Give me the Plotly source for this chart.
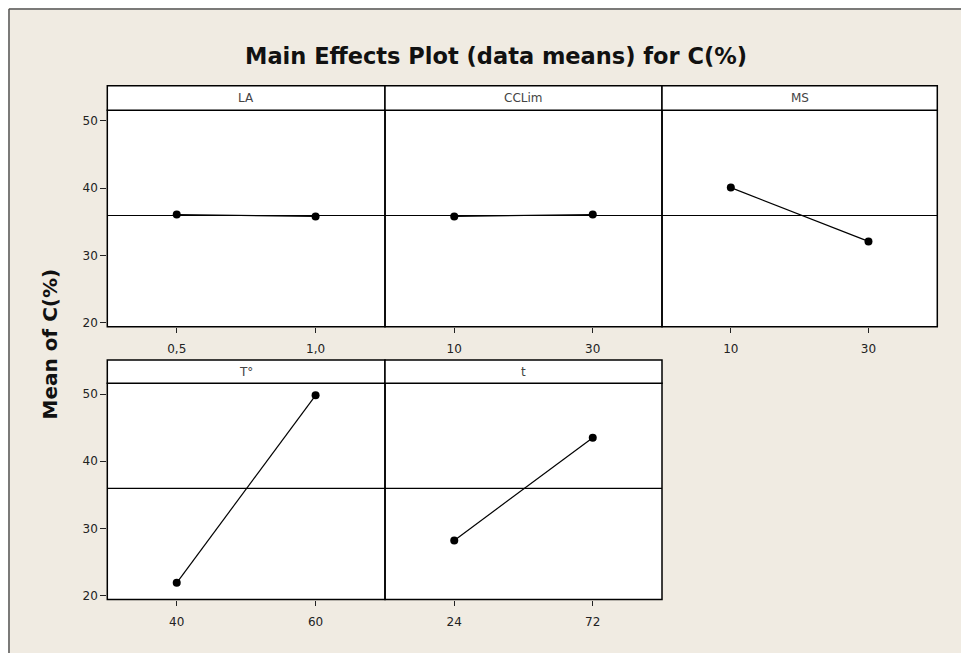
import plotly.graph_objects as go

# ---- data ----
factors = ["LA", "CCLim", "MS", "T°", "t"]
levels = [["0,5", "1,0"], ["10", "30"], ["10", "30"], ["40", "60"], ["24", "72"]]
means = [[36.1, 35.8], [35.8, 36.1], [40.1, 32.1], [21.9, 49.8], [28.2, 43.5]]
grand_mean = 35.95
y_ticks = [20, 30, 40, 50]
title_text = "Main Effects Plot (data means) for C(%)"
y_title = "Mean of C(%)"

# page is offset by the 8px body margin
OFF = 8
W, H = 969 - OFF, 653 - OFF + 6
BG = "#F0EBE2"

# panel geometry in page pixels (left, right) and (strip_top, plot_top, plot_bottom)
cols = [(107.3, 385.0), (385.0, 662.0), (662.0, 937.3)]
rows = [(86.0, 110.7, 328.3), (361.7, 385.0, 602.3)]
panel_pos = [(0, 0), (0, 1), (0, 2), (1, 0), (1, 1)]


def fx(px):
    return (px - OFF) / W


def fy(py):
    return 1 - (py - OFF) / H


fig = go.Figure()
shapes = []
annotations = []
layout_axes = {}

for i, (name, lv, mv) in enumerate(zip(factors, levels, means)):
    r, c = panel_pos[i]
    x0, x1 = cols[c]
    st, pt, pb = rows[r]
    n = "" if i == 0 else str(i + 1)
    xa, ya = "x" + n, "y" + n
    fig.add_trace(go.Scatter(
        x=lv, y=mv, xaxis=xa, yaxis=ya, mode="lines+markers",
        line=dict(color="black", width=1.2),
        marker=dict(color="black", size=8),
        showlegend=False, hoverinfo="x+y",
    ))
    layout_axes["xaxis" + n] = dict(
        domain=[fx(x0), fx(x1)], anchor=ya, type="category",
        categoryorder="array", categoryarray=lv, range=[-0.5, 1.5],
        showline=False, ticks="outside", ticklen=5, tickwidth=1, tickcolor="#222",
        ticklabelstandoff=6,
        showgrid=False, zeroline=False,
        tickfont=dict(family="DejaVu Sans", size=12, color="#222"),
        fixedrange=True,
    )
    layout_axes["yaxis" + n] = dict(
        domain=[fy(pb), fy(pt)], anchor=xa, range=[19.4, 51.6],
        tickvals=y_ticks, showline=False, showgrid=False, zeroline=False,
        ticks="outside" if c == 0 else "", ticklen=6, tickwidth=1, tickcolor="#222",
        showticklabels=(c == 0),
        tickfont=dict(family="DejaVu Sans", size=12, color="#222"),
        fixedrange=True,
    )
    # reference line at grand mean
    shapes.append(dict(type="line", xref=xa + " domain", yref=ya,
                       x0=0, x1=1, y0=grand_mean, y1=grand_mean,
                       line=dict(color="black", width=1.2), layer="below"))
    # panel frame
    shapes.append(dict(type="rect", xref="paper", yref="paper",
                       x0=fx(x0), x1=fx(x1), y0=fy(pb), y1=fy(pt),
                       line=dict(color="black", width=1.5)))
    # strip header
    shapes.append(dict(type="rect", xref="paper", yref="paper",
                       x0=fx(x0), x1=fx(x1), y0=fy(pt), y1=fy(st),
                       fillcolor="white", line=dict(color="black", width=1.5)))
    annotations.append(dict(text=name, xref="paper", yref="paper",
                            x=(fx(x0) + fx(x1)) / 2, y=(fy(pt) + fy(st)) / 2,
                            showarrow=False, xanchor="center", yanchor="middle",
                            font=dict(family="DejaVu Sans", size=12, color="#444")))

# outer frame
shapes.append(dict(type="line", xref="paper", yref="paper", x0=fx(9), x1=1,
                   y0=fy(9), y1=fy(9), line=dict(color="#555", width=1.5)))
shapes.append(dict(type="line", xref="paper", yref="paper", x0=fx(9), x1=fx(9),
                   y0=0, y1=fy(9), line=dict(color="#555", width=1.5)))

annotations.append(dict(text="<b>" + title_text + "</b>", xref="paper", yref="paper",
                        x=fx(496), y=fy(56), showarrow=False,
                        xanchor="center", yanchor="middle",
                        font=dict(family="DejaVu Sans", size=22.5, color="#111")))
annotations.append(dict(text="<b>" + y_title + "</b>", xref="paper", yref="paper",
                        x=fx(50), y=fy(346), showarrow=False, textangle=-90,
                        xanchor="center", yanchor="middle",
                        font=dict(family="DejaVu Sans", size=20, color="#111")))

fig.update_layout(
    width=W, height=H, margin=dict(l=0, r=0, t=0, b=0),
    paper_bgcolor=BG, plot_bgcolor="white",
    shapes=shapes, annotations=annotations, **layout_axes,
)

fig.write_html("out.html")
